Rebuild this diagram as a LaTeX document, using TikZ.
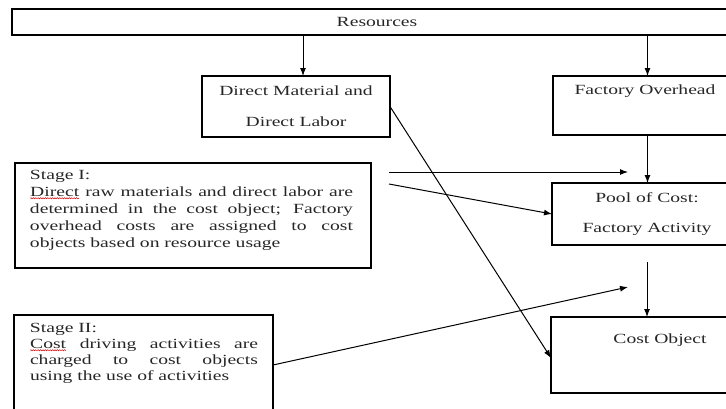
\documentclass[tikz,border=0pt]{standalone}
\usepackage{fontspec}
\setmainfont{Liberation Serif}[FakeStretch=1.4]
\usetikzlibrary{arrows.meta,decorations.pathmorphing}
\newcommand\squig[1]{\tikz[baseline=(sqw.base)]{\node[inner sep=0pt,outer sep=0pt,font=] (sqw) {#1};\draw[red!85!black,line width=0.5pt,decorate,decoration={snake,amplitude=0.6pt,segment length=2.4pt}] ([yshift=-2pt]sqw.base west) -- ([yshift=-2pt]sqw.base east);}}
\begin{document}
\begin{tikzpicture}[x=1pt,y=-1pt,
  font=\fontsize{14}{17}\selectfont,
  box/.style={draw, line width=1.2pt, inner sep=0pt, outer sep=0pt, text=black!85},
  txt/.style={inner sep=0pt, outer sep=0pt, text=black!85},
  arr/.style={-{Latex[length=8pt,width=6pt]}, line width=1pt}]
\useasboundingbox (0,0) rectangle (726,408);
\clip (0,0) rectangle (726,408);

\node[box, line width=1.5pt, minimum width=730pt, minimum height=26pt] (res) at (377,22) {Resources};
\node[box, minimum width=188pt, minimum height=61pt, align=center,
      font=\fontsize{14}{31}\selectfont] (dm) at (296,106.5) {Direct Material and\\Direct Labor};
\node[box, minimum width=189pt, minimum height=59pt] (fo) at (647.5,105.5) {};
\node[txt] (folab) at (645,91) {Factory Overhead};
\node[box, minimum width=190pt, minimum height=62pt, align=center,
      font=\fontsize{14}{30}\selectfont] (pool) at (647,214) {Pool of Cost:\\Factory Activity};
\node[box, minimum width=191pt, minimum height=76pt] (co) at (646.5,355) {};
\node[txt] (colab) at (660,340) {Cost Object};

\node[box, minimum width=356pt, minimum height=105pt] (s1) at (193,215.5) {};
\node[txt, anchor=north west, align=left] (s1t) at (30,170) {Stage I:\\
\makebox[323pt][s]{\squig{Direct} raw materials and direct labor are}\\
\makebox[323pt][s]{determined in the cost object; Factory}\\
\makebox[323pt][s]{overhead costs are assigned to cost}\\
objects based on resource usage};

\node[box, minimum width=259pt, minimum height=100pt] (s2) at (143.5,365) {};
\node[txt, anchor=north west, align=left, font=\fontsize{14}{16}\selectfont] (s2t) at (30,323) {Stage II:\\
\makebox[228pt][s]{\squig{Cost} driving activities are}\\
\makebox[228pt][s]{charged to cost objects}\\
using the use of activities};

\coordinate (c1) at (303,0);
\coordinate (a1) at (389,172);
\coordinate (a1e) at (628,172);
\coordinate (a2) at (389,184);
\coordinate (b1e) at (628,287);

\draw[arr] (res.south -| c1) -- (dm.north -| c1);
\draw[arr] (res.south -| fo.north) -- (fo.north);
\draw[arr] (fo.south) -- (fo.south |- pool.north);
\draw[arr] ([yshift=-17pt]pool.south) -- (pool.south |- co.north);
\draw[arr] (a1) -- (a1e);
\draw[arr] (a2) -- (pool.west);
\draw[arr] (s2.east) -- (b1e);
\draw[arr] (dm.east) -- ([yshift=-3pt]co.west);
\end{tikzpicture}
\end{document}
